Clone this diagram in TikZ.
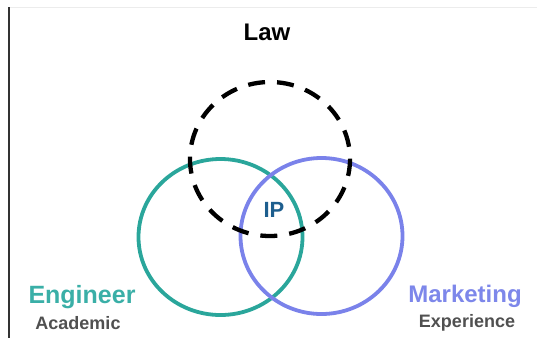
\documentclass[tikz,border=0pt]{standalone}
\usepackage{fontspec}
\setmainfont{Liberation Sans}
\definecolor{tealring}{HTML}{2AA69B}
\definecolor{tealtext}{HTML}{3AAFA7}
\definecolor{bluering}{HTML}{7A82EA}
\definecolor{bluetext}{HTML}{7D87EA}
\definecolor{iptext}{HTML}{1D5E8E}
\definecolor{subtext}{HTML}{505050}
\tikzstyle{ring}=[line width=3.8pt]
\tikzstyle{lawring}=[line width=4.3pt, dash pattern=on 17pt off 12pt]
\tikzstyle{title}=[anchor=base, inner sep=0pt, font=\bfseries\fontsize{24}{24}\selectfont]
\tikzstyle{sub}=[anchor=base, inner sep=0pt, text=subtext, font=\bfseries\fontsize{18}{18}\selectfont]

\begin{document}
\begin{tikzpicture}[x=1pt, y=-1pt]
\useasboundingbox (0, 0) rectangle (537, 338);

% frame
\draw[gray!15, line width=1pt] (9, 7) -- (537, 7);
\draw[black!80, line width=1.3pt] (9, 7) -- (9, 338);

% circles
\draw[ring, tealring]  (220.5, 237) ellipse (82 and 78);
\draw[ring, bluering]  (321.5, 236) ellipse (81 and 78);
\draw[lawring, black]  (270, 159) ellipse (80 and 77);

% labels
\node[title] (law) at (267, 40) {Law};
\node[title, text=tealtext, font=\bfseries\fontsize{25}{25}\selectfont] (eng) at (82, 303) {Engineer};
\node[sub] (acad) at (78, 329) {Academic};
\node[title, text=bluetext] (mkt) at (465, 302) {Marketing};
\node[sub] (exp) at (467, 327) {Experience};
\node[title, text=iptext, font=\bfseries\fontsize{22}{22}\selectfont] (ip) at (274, 217) {IP};

\end{tikzpicture}
\end{document}
